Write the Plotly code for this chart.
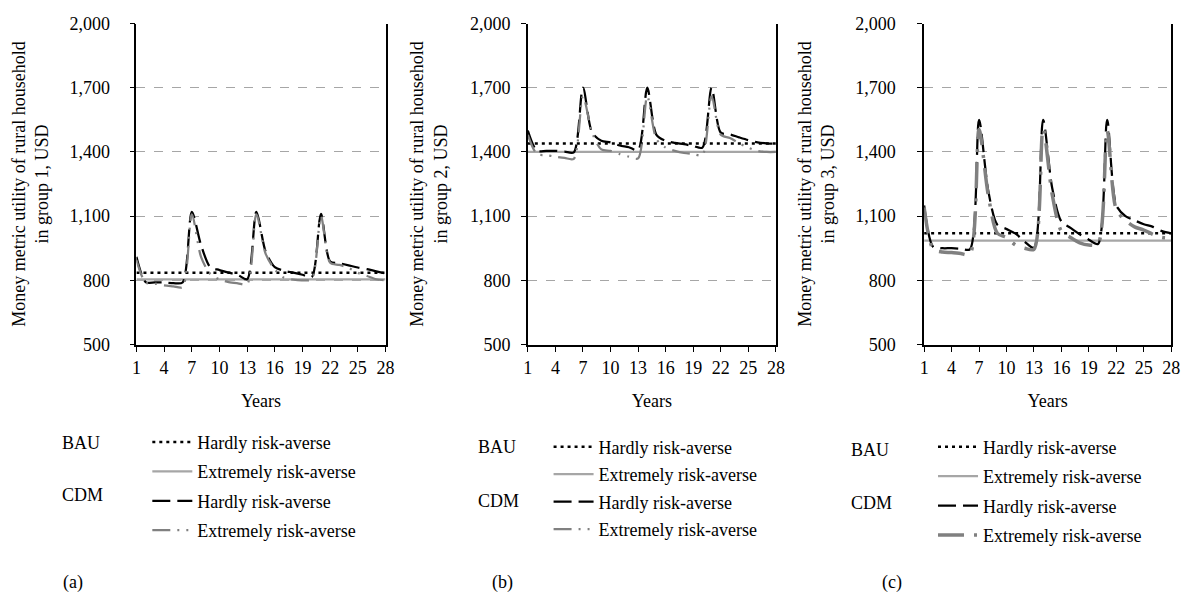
import plotly.graph_objects as go

# ---------------- data ----------------
years = list(range(1, 29))
x_ticks = [1, 4, 7, 10, 13, 16, 19, 22, 25, 28]
y_ticks = [500, 800, 1100, 1400, 1700, 2000]

panel_labels = ["(a)", "(b)", "(c)"]
group_titles = ["Money metric utility of rural household<br>in group 1, USD",
                "Money metric utility of rural household<br>in group 2, USD",
                "Money metric utility of rural household<br>in group 3, USD"]
series_names = ["Hardly risk-averse", "Extremely risk-averse",
                "Hardly risk-averse", "Extremely risk-averse"]

# panel (a) - group 1
bau_hardly_a = [835] * 28
bau_extreme_a = [805] * 28
cdm_hardly_a = [910, 792, 790, 790, 787, 790, 1120, 965, 862, 848, 836, 825, 805, 1120,
                935, 862, 845, 836, 826, 815, 1110, 888, 880, 870, 860, 852, 842, 832]
cdm_extreme_a = [895, 790, 785, 776, 772, 768, 1108, 910, 830, 805, 792, 786, 782, 1108,
                 925, 850, 812, 803, 800, 805, 1100, 882, 872, 858, 835, 820, 805, 800]

# panel (b) - group 2
bau_hardly_b = [1440] * 28
bau_extreme_b = [1400] * 28
cdm_hardly_b = [1500, 1405, 1405, 1405, 1402, 1398, 1700, 1490, 1452, 1445, 1430, 1422, 1408, 1700,
                1480, 1452, 1442, 1436, 1428, 1420, 1700, 1490, 1482, 1468, 1455, 1445, 1440, 1438]
cdm_extreme_b = [1480, 1390, 1385, 1378, 1372, 1368, 1660, 1490, 1412, 1405, 1390, 1378, 1370, 1660,
                 1460, 1420, 1405, 1395, 1390, 1385, 1660, 1480, 1465, 1440, 1420, 1405, 1400, 1400]

# panel (c) - group 3
bau_hardly_c = [1020] * 28
bau_extreme_c = [985] * 28
cdm_hardly_c = [1150, 955, 950, 950, 948, 945, 1550, 1220, 1060, 1040, 1018, 980, 952, 1550,
                1230, 1075, 1045, 1015, 990, 970, 1550, 1150, 1100, 1080, 1062, 1050, 1030, 1020]
cdm_extreme_c = [1140, 945, 932, 930, 925, 922, 1505, 1200, 1020, 1000, 965, 950, 945, 1510,
                 1200, 1030, 1000, 975, 965, 970, 1500, 1130, 1080, 1050, 1035, 1015, 1000, 998]

panels = [
    (bau_hardly_a, bau_extreme_a, cdm_hardly_a, cdm_extreme_a),
    (bau_hardly_b, bau_extreme_b, cdm_hardly_b, cdm_extreme_b),
    (bau_hardly_c, bau_extreme_c, cdm_hardly_c, cdm_extreme_c),
]

# ---------------- layout geometry (pixels) ----------------
W, H = 1198, 603
FONT = "Liberation Serif, Times New Roman, serif"
FS = 18

plot_x = [(133, 385), (529, 780), (930, 1180)]
plot_y = (14, 346)
label_standoff = [16, 7, 18]
title_standoff = [16, 18, 16]
legend_pos = [(144, 428), (550, 433), (939, 433)]
legend_gap = [3, 1, 3]
grp_label_pos = [((56, 448), (56, 502)), ((477, 452), (477, 508)), ((854, 455), (854, 510))]
panel_label_pos = [(57, 592), (491, 592), (885, 592)]

def px(x):
    return x / W

def py(y):
    return 1 - y / H

styles = [
    dict(color="black", width=2.5, dash="3px,4px"),
    dict(color="#A6A6A6", width=2.25, dash="solid"),
    dict(color="black", width=2.25, dash="18px,7px"),
    dict(color="#808080", width=2.25, dash="18px,7px,2px,7px,2px,7px"),
]
style_c_extreme = dict(color="#808080", width=3.5, dash="26px,10px,3px,10px")

fig = go.Figure()
annotations = []
layout = dict(
    width=W, height=H,
    margin=dict(l=0, r=0, t=0, b=0),
    paper_bgcolor="white", plot_bgcolor="white",
    font=dict(family=FONT, size=FS, color="black"),
    showlegend=True,
)

for i, data in enumerate(panels):
    sfx = "" if i == 0 else str(i + 1)
    leg = "legend" if i == 0 else f"legend{i + 1}"
    for k in range(4):
        st = styles[k] if not (i == 2 and k == 3) else style_c_extreme
        shape = "linear" if k < 2 else "spline"
        fig.add_trace(go.Scatter(
            x=years, y=data[k], mode="lines",
            name=series_names[k],
            line=dict(color=st["color"], width=st["width"], dash=st["dash"],
                      shape=shape, smoothing=0.8),
            xaxis="x" + sfx, yaxis="y" + sfx,
            legend=leg, legendgroup=f"p{i}s{k}",
            hoverinfo="skip",
        ))
    x0, x1 = plot_x[i]
    layout["xaxis" + sfx] = dict(
        domain=[px(x0), px(x1)], anchor="y" + sfx,
        range=[1, 28], tickmode="array", tickvals=x_ticks,
        showline=True, linecolor="black", linewidth=1.5,
        ticks="outside", ticklen=6, tickcolor="black",
        showgrid=False, zeroline=False,
        tickfont=dict(family=FONT, size=FS),
        title=dict(text="Years", font=dict(family=FONT, size=FS), standoff=18),
    )
    layout["yaxis" + sfx] = dict(
        domain=[py(plot_y[1]), py(plot_y[0])], anchor="x" + sfx,
        range=[500, 2000], tickmode="array", tickvals=y_ticks,
        tickformat=",d",
        showline=True, linecolor="black", linewidth=1.5, mirror=True,
        ticks="outside", ticklen=5, tickcolor="black",
        ticklabelstandoff=label_standoff[i],
        showgrid=True, gridcolor="#A6A6A6", griddash="dash", gridwidth=1,
        zeroline=False,
        tickfont=dict(family=FONT, size=FS),
        title=dict(text=group_titles[i], font=dict(family=FONT, size=FS),
                   standoff=title_standoff[i]),
    )
    lx, ly = legend_pos[i]
    layout[leg] = dict(
        x=px(lx), y=py(ly), xanchor="left", yanchor="top",
        bgcolor="rgba(0,0,0,0)", borderwidth=0,
        font=dict(family=FONT, size=FS, color="black"),
        tracegroupgap=legend_gap[i], itemwidth=40,
        traceorder="grouped",
    )
    (bx, by), (cx, cy) = grp_label_pos[i]
    annotations.append(dict(text="BAU", x=px(bx), y=py(by), xref="paper", yref="paper",
                            xanchor="left", yanchor="middle", showarrow=False,
                            font=dict(family=FONT, size=FS)))
    annotations.append(dict(text="CDM", x=px(cx), y=py(cy), xref="paper", yref="paper",
                            xanchor="left", yanchor="middle", showarrow=False,
                            font=dict(family=FONT, size=FS)))
    plx, ply = panel_label_pos[i]
    annotations.append(dict(text=panel_labels[i], x=px(plx), y=py(ply), xref="paper", yref="paper",
                            xanchor="left", yanchor="middle", showarrow=False,
                            font=dict(family=FONT, size=FS)))

layout["annotations"] = annotations
fig.update_layout(**layout)
fig.write_html("out.html")
